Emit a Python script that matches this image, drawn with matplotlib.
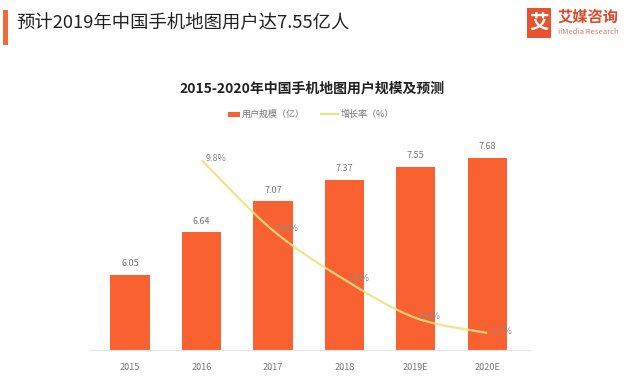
import matplotlib
matplotlib.use("Agg")
import matplotlib.pyplot as plt
from matplotlib.path import Path
from matplotlib.patches import PathPatch, Rectangle
from matplotlib.lines import Line2D
import numpy as np

plt.rcParams['font.family'] = ['Noto Sans CJK SC', 'DejaVu Sans']

years = ['2015', '2016', '2017', '2018', '2019E', '2020E']
users = [6.05, 6.64, 7.07, 7.37, 7.55, 7.68]
growth_years = ['2016', '2017', '2018', '2019E', '2020E']
growth = [9.8, 6.5, 4.2, 2.4, 1.7]

title = '预计2019年中国手机地图用户达7.55亿人'
subtitle = '2015-2020年中国手机地图用户规模及预测'
legend_bar = '用户规模（亿）'
legend_line = '增长率（%）'

BAR = '#FA6130'
LINE = '#F3E07C'
GRAY = '#777777'

W, H = 640, 388
fig = plt.figure(figsize=(6.4, 3.88), dpi=100)
fig.patch.set_facecolor('white')

def fx(px):
    return px / W

def fy(py):
    return 1 - py / H

# header
fig.patches.append(Rectangle((fx(3), fy(45)), fx(5), 35 / H, transform=fig.transFigure,
                             facecolor='#EE6A3A', edgecolor='none'))
fig.text(fx(16), fy(23), title, fontsize=13.2, color='#222222', va='center', ha='left')

# logo
fig.patches.append(Rectangle((fx(527), fy(38)), fx(24), 30 / H, transform=fig.transFigure,
                             facecolor='#E8532F', edgecolor='none'))
fig.text(fx(539), fy(23), '艾', fontsize=14, color='white', fontweight='bold', ha='center', va='center')
fig.text(fx(558), fy(17), '艾媒咨询', fontsize=11, color='#E04A2A', fontweight='bold', ha='left', va='center')
fig.text(fx(558), fy(32), 'iiMedia Research', fontsize=5.5, color='#C98070', ha='left', va='center')

# subtitle
fig.text(fx(312), fy(88), subtitle, fontsize=10, fontweight='bold', color='#222222', ha='center', va='center')

# legend
fig.patches.append(Rectangle((fx(228), fy(117)), fx(12), 5 / H, transform=fig.transFigure,
                             facecolor=BAR, edgecolor='none'))
fig.text(fx(242), fy(114), legend_bar, fontsize=6.5, color=GRAY, ha='left', va='center')
fig.lines.append(Line2D([fx(321), fx(338)], [fy(114), fy(114)], transform=fig.transFigure,
                        color=LINE, lw=1.5))
fig.text(fx(341), fy(114), legend_line, fontsize=6.5, color=GRAY, ha='left', va='center')

# main axes
ax = fig.add_axes([fx(90), fy(350), fx(440), 210 / H])
x = np.arange(len(years))
ax.bar(x, users, width=0.55, color=BAR, zorder=2)
ax.set_xlim(-0.56, 5.6)
ax.set_ylim(5, 7.925)
for xi, v in zip(x, users):
    ax.annotate(f'{v:.2f}', (xi, v), xytext=(0, 8), textcoords='offset points',
                ha='center', va='center', fontsize=6.5, color=GRAY)
ax.set_xticks(x)
ax.set_xticklabels(years, fontsize=6.5, color=GRAY)
ax.tick_params(axis='x', length=0, pad=9)
ax.set_yticks([])
for s in ['top', 'right', 'left']:
    ax.spines[s].set_visible(False)
ax.spines['bottom'].set_color('#E6E6E6')

ax2 = ax.twinx()
ax2.set_ylim(0.9, 10.73)
ax2.set_yticks([])
for s in ax2.spines.values():
    s.set_visible(False)
gx = np.array([years.index(y) for y in growth_years], dtype=float)
gy = np.array(growth)

# smooth curve through points (Catmull-Rom -> cubic Bezier)
pts = np.column_stack([gx, gy])
verts = [tuple(pts[0])]
codes = [Path.MOVETO]
n = len(pts)
for i in range(n - 1):
    p0 = pts[i - 1] if i > 0 else pts[i]
    p1 = pts[i]
    p2 = pts[i + 1]
    p3 = pts[i + 2] if i + 2 < n else pts[i + 1]
    c1 = p1 + (p2 - p0) / 6
    c2 = p2 - (p3 - p1) / 6
    verts += [tuple(c1), tuple(c2), tuple(p2)]
    codes += [Path.CURVE4] * 3
ax2.add_patch(PathPatch(Path(verts, codes), facecolor='none', edgecolor=LINE, lw=1.6,
                        alpha=0.9, zorder=3))
for xi, v in zip(gx, gy):
    ax2.annotate(f'{v}%', (xi, v), xytext=(3, 1), textcoords='offset points',
                 ha='left', va='center', fontsize=6.5, color='#888888')

fig.savefig('out.png', dpi=100, facecolor='white')
